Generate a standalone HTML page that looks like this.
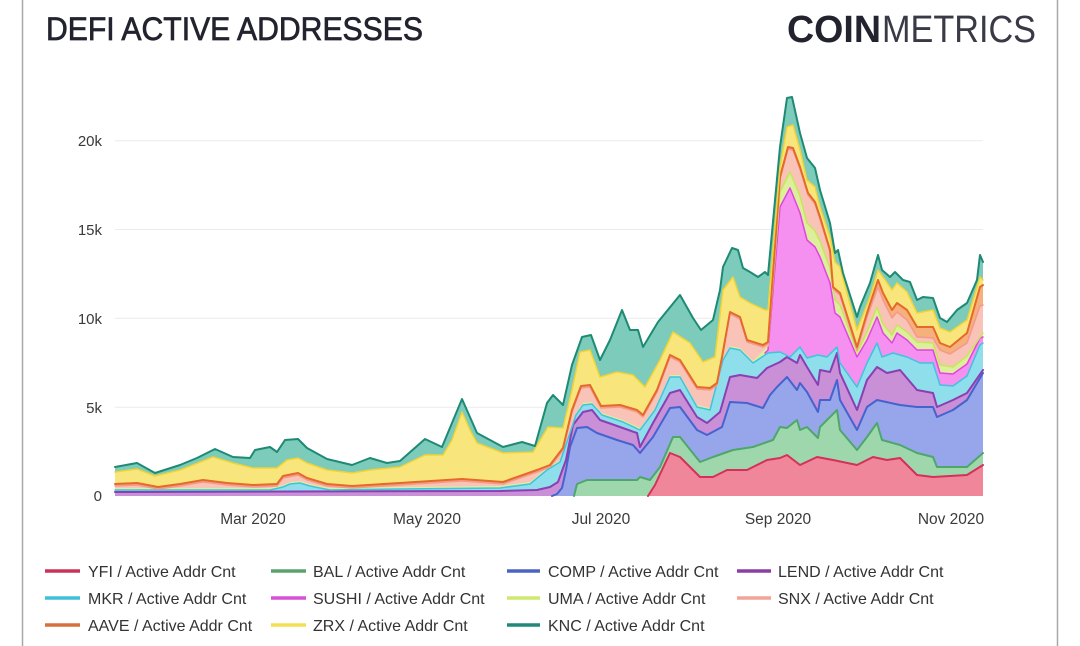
<!DOCTYPE html>
<html>
<head>
<meta charset="utf-8">
<style>
  html,body{margin:0;padding:0;background:#fff;}
  svg{display:block;}
  text{font-family:"Liberation Sans",Arial,sans-serif;}
</style>
</head>
<body>
<svg width="1080" height="646" viewBox="0 0 1080 646" xmlns="http://www.w3.org/2000/svg">
  <rect width="1080" height="646" fill="#fff"/>
  <!-- frame -->
  <line x1="22.5" y1="0" x2="22.5" y2="646" stroke="#a8a8a8" stroke-width="1.5"/>
  <line x1="1057.5" y1="0" x2="1057.5" y2="646" stroke="#a8a8a8" stroke-width="1.5"/>

  <!-- title -->
  <text x="46" y="40" font-size="32" fill="#23232f" stroke="#23232f" stroke-width="0.7" textLength="377" lengthAdjust="spacingAndGlyphs">DEFI ACTIVE ADDRESSES</text>
  <text x="787" y="42" font-size="38" font-weight="bold" fill="#23232f" textLength="94" lengthAdjust="spacingAndGlyphs">COIN</text>
  <text x="882" y="42" font-size="38" fill="#3a3a46" textLength="154" lengthAdjust="spacingAndGlyphs">METRICS</text>

  <!-- gridlines -->
  <g stroke="#ececec" stroke-width="1">
    <line x1="115" y1="140.7" x2="983" y2="140.7"/>
    <line x1="115" y1="229.5" x2="983" y2="229.5"/>
    <line x1="115" y1="318.3" x2="983" y2="318.3"/>
    <line x1="115" y1="407.2" x2="983" y2="407.2"/>
  </g>

  <!-- y labels -->
  <g font-size="15" fill="#3a3a3a" text-anchor="end">
    <text x="102" y="146">20k</text>
    <text x="102" y="235">15k</text>
    <text x="102" y="324">10k</text>
    <text x="102" y="413">5k</text>
    <text x="102" y="501">0</text>
  </g>

  <!-- fills (top-most first) -->
  <g stroke="none">
    <polygon fill="#7ccbbb" points="115,467 137,463 155,473 180,465 197,458 215,449 233,457 250,458 255,450 270,447 277,452 285,440 298,439 307,448 327,459 352,465 370,458 387,463 400,461 425,439 442,447 462,399 477,433 503,447 522,442 535,446 547,403 553,395 558,400 563,405 572,365 582,337 591,335 600,360 610,340 622,310 630,330 638,330 643,347 658,322 680,295 693,318 701,330 713,320 720,290 723,267 732,248 738,250 743,268 750,272 758,277 765,272 768,275 780,147 787,98 792,97 800,133 807,158 815,168 820,190 830,223 835,253 838,250 843,273 857,317 860,307 870,283 878,255 882,270 890,277 895,272 903,280 910,282 917,300 923,297 933,298 940,318 947,322 957,310 967,303 977,280 980,255 983,262 983,496 115,496"/>
    <polygon fill="#f8e67c" points="115,472 137,469 155,476 180,470 213,457 233,463 253,468 277,468 287,460 298,458 307,463 327,470 352,473 370,470 400,467 425,455 443,455 452,440 462,412 470,430 477,443 503,453 533,452 548,427 563,428 572,390 580,352 590,350 600,377 617,372 633,375 645,387 660,360 673,332 690,343 703,362 715,357 723,290 733,277 740,297 750,303 765,310 768,310 780,167 787,127 793,125 800,150 807,180 815,187 820,207 830,237 835,262 840,267 857,330 870,297 878,270 883,277 892,290 897,283 907,292 917,313 933,310 940,328 950,332 967,320 980,277 983,280 983,496 115,496"/>
    <polygon fill="#f5b07c" points="115,484 137,483 158,487 180,484 203,480 227,483 253,485 277,484 283,476 298,473 307,478 327,484 352,486 400,483 462,479 503,482 520,476 537,470 550,465 563,448 572,410 581,386 590,385 601,406 620,405 637,410 643,415 657,390 670,355 680,360 697,387 710,388 717,383 722,357 730,312 740,317 747,340 763,345 768,342 780,177 788,147 793,148 800,167 808,193 815,202 820,217 830,250 833,287 840,293 857,347 867,313 878,280 883,293 892,310 897,303 907,310 917,327 933,327 940,343 950,347 967,333 980,287 983,285 983,496 115,496"/>
    <polygon fill="#f9c3b8" points="115,486 137,485 158,489 180,486 203,482 227,485 253,487 277,486 283,478 298,475 307,480 327,486 352,488 400,485 462,481 503,484 520,478 537,472 550,467 563,450 572,412 581,388 590,387 601,408 620,407 637,412 643,417 657,392 670,357 680,362 697,389 710,390 717,385 722,359 730,314 740,319 747,342 763,347 768,344 780,179 788,149 793,150 800,169 808,195 815,204 820,219 830,252 833,289 840,295 857,350 867,317 878,287 883,300 892,318 897,312 907,320 917,337 933,338 940,350 950,354 967,343 980,306 983,305 983,496 115,496"/>
    <polygon fill="#dcf09c" points="115,488 270,488 283,485 290,482 300,481 310,484 330,488 400,487 500,486 530,482 547,468 560,460 570,431 576,413 583,403 592,402 602,413 623,420 640,428 655,408 670,375 680,375 697,405 710,408 723,358 730,346 740,348 753,361 768,346 780,192 790,172 800,196 807,223 815,231 820,241 830,268 835,300 840,305 857,352 867,332 877,307 883,324 892,335 897,325 907,332 917,342 933,343 940,365 953,367 967,356 983,333 983,496 115,496"/>
    <polygon fill="#f58ff0" points="765,353 768,350 780,207 790,188 800,213 807,240 815,247 820,257 830,283 835,313 840,317 857,357 867,340 877,317 883,333 892,343 897,333 907,340 917,350 933,350 940,373 953,374 967,364 980,338 983,337 983,496 765,496"/>
    <polygon fill="#8fdeec" points="115,490 270,490 283,487 290,484 300,483 310,486 330,490 400,489 500,488 530,484 547,470 560,462 570,433 576,415 583,405 592,404 602,415 623,422 640,430 655,410 670,377 680,377 697,407 710,410 723,360 730,348 740,350 753,363 768,353 780,352 790,357 800,347 807,358 818,355 827,357 837,347 840,363 857,387 867,363 877,343 882,357 893,353 907,357 920,363 933,363 940,385 953,386 967,376 980,345 983,343 983,496 115,496"/>
    <polygon fill="#c990d8" points="115,492 500,491 537,490 550,487 558,482 566,460 573,425 583,412 592,410 600,420 620,427 637,433 640,447 653,423 670,393 680,390 697,417 707,423 720,412 730,377 740,375 757,378 767,368 780,362 787,357 797,363 800,355 807,367 818,385 820,370 830,372 837,353 840,373 857,410 867,380 877,367 887,373 900,370 917,390 933,393 937,407 953,400 967,393 983,370 983,496 115,496"/>
    <polygon fill="#97a6ea" points="552,496 557,494 562,488 566,470 570,447 577,428 587,427 597,433 617,440 633,445 640,453 653,437 670,408 680,407 697,430 707,435 722,427 730,402 747,403 763,408 770,395 777,387 787,377 797,390 800,383 807,392 818,412 820,400 830,400 837,380 840,400 857,430 867,407 877,400 900,405 917,407 933,407 937,417 953,410 967,400 983,373 983,496"/>
    <polygon fill="#9fd7ad" points="574,496 577,484 587,480 607,480 637,480 640,477 650,480 660,467 673,437 680,437 700,462 713,457 733,450 753,447 773,440 780,427 787,428 797,420 800,430 807,427 818,438 820,427 837,410 840,430 857,450 867,437 877,423 882,440 900,445 917,453 933,457 937,467 967,467 983,453 983,496"/>
    <polygon fill="#ef8699" points="648,496 655,485 662,470 670,453 680,457 700,477 713,477 727,470 747,470 767,460 780,458 787,455 800,465 817,457 833,460 857,465 873,457 887,460 900,458 917,475 933,477 967,475 983,465 983,496"/>
  </g>

  <!-- series lines -->
  <g fill="none" stroke-linejoin="round" stroke-linecap="round">
    <polyline stroke="#d5305a" stroke-width="2" points="648,496 655,485 662,470 670,453 680,457 700,477 713,477 727,470 747,470 767,460 780,458 787,455 800,465 817,457 833,460 857,465 873,457 887,460 900,458 917,475 933,477 967,475 983,465"/>
    <polyline stroke="#4ea76a" stroke-width="2" points="574,496 577,484 587,480 607,480 637,480 640,477 650,480 660,467 673,437 680,437 700,462 713,457 733,450 753,447 773,440 780,427 787,428 797,420 800,430 807,427 818,438 820,427 837,410 840,430 857,450 867,437 877,423 882,440 900,445 917,453 933,457 937,467 967,467 983,453"/>
    <polyline stroke="#4563cf" stroke-width="2" points="552,496 557,494 562,488 566,470 570,447 577,428 587,427 597,433 617,440 633,445 640,453 653,437 670,408 680,407 697,430 707,435 722,427 730,402 747,403 763,408 770,395 777,387 787,377 797,390 800,383 807,392 818,412 820,400 830,400 837,380 840,400 857,430 867,407 877,400 900,405 917,407 933,407 937,417 953,410 967,400 983,373"/>
    <polyline stroke="#8a3fb2" stroke-width="2" points="115,492 500,491 537,490 550,487 558,482 566,460 573,425 583,412 592,410 600,420 620,427 637,433 640,447 653,423 670,393 680,390 697,417 707,423 720,412 730,377 740,375 757,378 767,368 780,362 787,357 797,363 800,355 807,367 818,385 820,370 830,372 837,353 840,373 857,410 867,380 877,367 887,373 900,370 917,390 933,393 937,407 953,400 967,393 983,370"/>
    <polyline stroke="#3fc4dc" stroke-width="1.5" points="115,490 270,490 283,487 290,484 300,483 310,486 330,490 400,489 500,488 530,484 547,470 560,462 570,433 576,415 583,405 592,404 602,415 623,422 640,430 655,410 670,377 680,377 697,407 710,410 723,360 730,348 740,350 753,363 768,353 780,352 790,357 800,347 807,358 818,355 827,357 837,347 840,363 857,387 867,363 877,343 882,357 893,353 907,357 920,363 933,363 940,385 953,386 967,376 980,345 983,343"/>
    <polyline stroke="#e244e2" stroke-width="1.5" points="765,353 768,350 780,207 790,188 800,213 807,240 815,247 820,257 830,283 835,313 840,317 857,357 867,340 877,317 883,333 892,343 897,333 907,340 917,350 933,350 940,373 953,374 967,364 980,338 983,337"/>
    <polyline stroke="#c8e65a" stroke-width="1.5" points="768,346 780,192 790,172 800,196 807,223 815,231 820,241 830,268 835,300 840,305 857,352 867,332 877,307 883,324 892,335 897,325 907,332 917,342 933,343 940,365 953,367 967,356 983,333"/>
    <polyline stroke="#f39a8a" stroke-width="1.5" points="115,486 137,485 158,489 180,486 203,482 227,485 253,487 277,486 283,478 298,475 307,480 327,486 352,488 400,485 462,481 503,484 520,478 537,472 550,467 563,450 572,412 581,388 590,387 601,408 620,407 637,412 643,417 657,392 670,357 680,362 697,389 710,390 717,385 722,359 730,314 740,319 747,342 763,347 768,344 780,179 788,149 793,150 800,169 808,195 815,204 820,219 830,252 833,289 840,295 857,350 867,317 878,287 883,300 892,318 897,312 907,320 917,337 933,338 940,350 950,354 967,343 980,306 983,305"/>
    <polyline stroke="#e4692a" stroke-width="2" points="115,484 137,483 158,487 180,484 203,480 227,483 253,485 277,484 283,476 298,473 307,478 327,484 352,486 400,483 462,479 503,482 520,476 537,470 550,465 563,448 572,410 581,386 590,385 601,406 620,405 637,410 643,415 657,390 670,355 680,360 697,387 710,388 717,383 722,357 730,312 740,317 747,340 763,345 768,342 780,177 788,147 793,148 800,167 808,193 815,202 820,217 830,250 833,287 840,293 857,347 867,313 878,280 883,293 892,310 897,303 907,310 917,327 933,327 940,343 950,347 967,333 980,287 983,285"/>
    <polyline stroke="#f2d335" stroke-width="1.5" points="115,472 137,469 155,476 180,470 213,457 233,463 253,468 277,468 287,460 298,458 307,463 327,470 352,473 370,470 400,467 425,455 443,455 452,440 462,412 470,430 477,443 503,453 533,452 548,427 563,428 572,390 580,352 590,350 600,377 617,372 633,375 645,387 660,360 673,332 690,343 703,362 715,357 723,290 733,277 740,297 750,303 765,310 768,310 780,167 787,127 793,125 800,150 807,180 815,187 820,207 830,237 835,262 840,267 857,330 870,297 878,270 883,277 892,290 897,283 907,292 917,313 933,310 940,328 950,332 967,320 980,277 983,280"/>
    <polyline stroke="#1e8a74" stroke-width="2" points="115,467 137,463 155,473 180,465 197,458 215,449 233,457 250,458 255,450 270,447 277,452 285,440 298,439 307,448 327,459 352,465 370,458 387,463 400,461 425,439 442,447 462,399 477,433 503,447 522,442 535,446 547,403 553,395 558,400 563,405 572,365 582,337 591,335 600,360 610,340 622,310 630,330 638,330 643,347 658,322 680,295 693,318 701,330 713,320 720,290 723,267 732,248 738,250 743,268 750,272 758,277 765,272 768,275 780,147 787,98 792,97 800,133 807,158 815,168 820,190 830,223 835,253 838,250 843,273 857,317 860,307 870,283 878,255 882,270 890,277 895,272 903,280 910,282 917,300 923,297 933,298 940,318 947,322 957,310 967,303 977,280 980,255 983,262"/>
  </g>

  <!-- x labels -->
  <g font-size="15.5" fill="#3a3a3a" text-anchor="middle">
    <text x="253" y="524">Mar 2020</text>
    <text x="427" y="524">May 2020</text>
    <text x="601" y="524">Jul 2020</text>
    <text x="778" y="524">Sep 2020</text>
    <text x="951" y="524">Nov 2020</text>
  </g>

  <!-- legend -->
  <g stroke-width="3.5" stroke-linecap="butt">
    <line x1="45" y1="571" x2="80" y2="571" stroke="#c93358"/>
    <line x1="271" y1="571" x2="306" y2="571" stroke="#5aa36e"/>
    <line x1="507" y1="571" x2="540" y2="571" stroke="#4a64c4"/>
    <line x1="737" y1="571" x2="771" y2="571" stroke="#8a3fa6"/>
    <line x1="45" y1="598" x2="80" y2="598" stroke="#40c0d8"/>
    <line x1="271" y1="598" x2="306" y2="598" stroke="#d850d8"/>
    <line x1="507" y1="598" x2="540" y2="598" stroke="#cfe870"/>
    <line x1="737" y1="598" x2="771" y2="598" stroke="#f2a498"/>
    <line x1="45" y1="625" x2="80" y2="625" stroke="#d8703e"/>
    <line x1="271" y1="625" x2="306" y2="625" stroke="#f2e050"/>
    <line x1="507" y1="625" x2="540" y2="625" stroke="#1f8a78"/>
  </g>
  <g font-size="16" fill="#333">
    <text x="88" y="577">YFI / Active Addr Cnt</text>
    <text x="313" y="577">BAL / Active Addr Cnt</text>
    <text x="548" y="577">COMP / Active Addr Cnt</text>
    <text x="778" y="577">LEND / Active Addr Cnt</text>
    <text x="88" y="604">MKR / Active Addr Cnt</text>
    <text x="313" y="604">SUSHI / Active Addr Cnt</text>
    <text x="548" y="604">UMA / Active Addr Cnt</text>
    <text x="778" y="604">SNX / Active Addr Cnt</text>
    <text x="88" y="631">AAVE / Active Addr Cnt</text>
    <text x="313" y="631">ZRX / Active Addr Cnt</text>
    <text x="548" y="631">KNC / Active Addr Cnt</text>
  </g>
</svg>
</body>
</html>
